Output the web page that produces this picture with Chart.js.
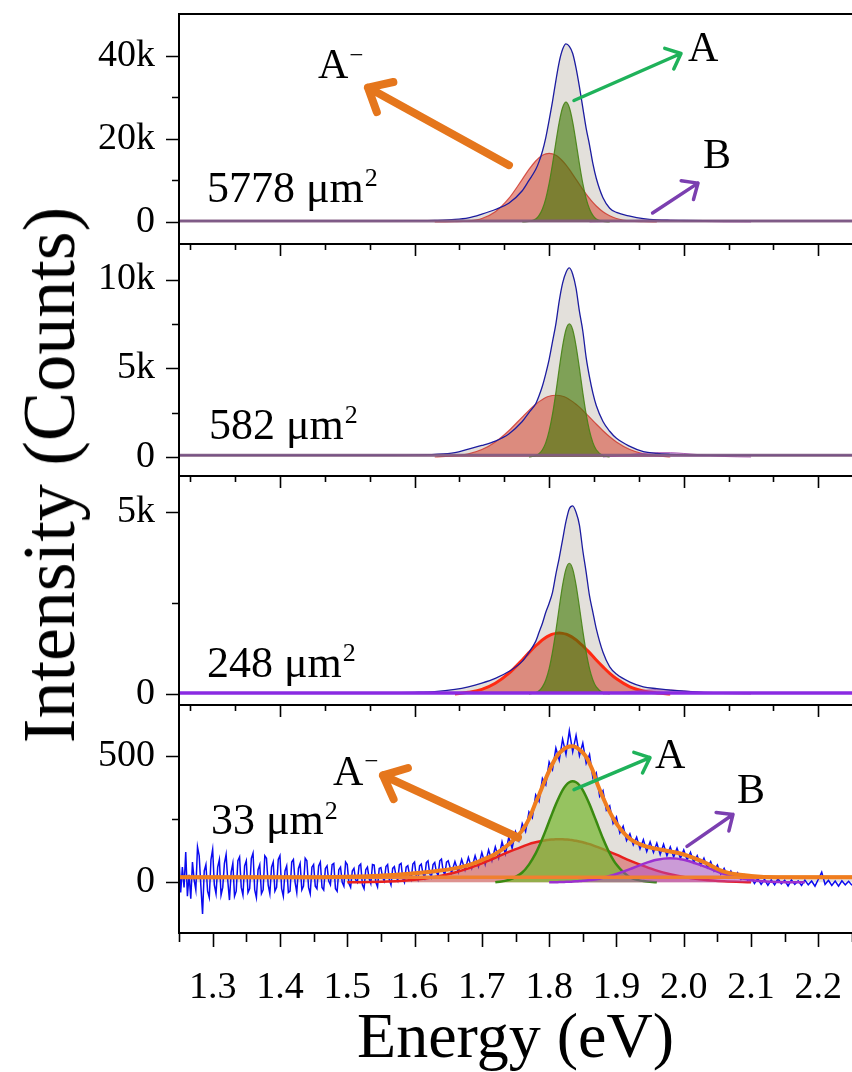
<!DOCTYPE html>
<html>
<head>
<meta charset="utf-8">
<title>PL spectra vs. flake area</title>
<script src="https://cdn.jsdelivr.net/npm/chart.js@4.4.1/dist/chart.umd.min.js"></script>
<style>
html, body { margin: 0; padding: 0; background: #fff; }
#wrap { position: relative; width: 852px; height: 1072px; overflow: hidden; }
#wrap canvas { position: absolute; left: 0; top: 0; }
#ytitle {
  position: absolute; left: 49px; top: 475px;
  transform: translate(-50%, -50%) rotate(-90deg);
  font: 74px "Liberation Serif", "Times New Roman", serif;
  line-height: 1; white-space: nowrap; color: #000;
}
</style>
</head>
<body>
<div id="wrap">
<canvas id="p1" width="852" height="1072"></canvas>
<canvas id="p2" width="852" height="1072"></canvas>
<canvas id="p3" width="852" height="1072"></canvas>
<canvas id="p4" width="852" height="1072"></canvas>
<div id="ytitle">Intensity (Counts)</div>
</div>
<script>
// PL spectra of four flakes, fitted with A-, A and B peaks

/* ENERGY GRID (eV) FOR THE FITTED CURVES */

const energy = [1.25, 1.40, 1.50, 1.56, 1.60, 1.63, 1.66, 1.68, 1.70, 1.72,
  1.74, 1.76, 1.77, 1.78, 1.785, 1.79, 1.795, 1.80, 1.805, 1.81,
  1.815, 1.82, 1.825, 1.83, 1.835, 1.84, 1.845, 1.85, 1.855, 1.86,
  1.865, 1.87, 1.88, 1.89, 1.90, 1.92, 1.94, 1.96, 1.98, 2.00,
  2.03, 2.06, 2.10, 2.14, 2.18, 2.25];

const baseEnergy = [1.25, 2.25];

/* 5778 um2 */

const p1Spectrum = [250, 250, 250, 260, 300, 380, 600, 1000, 1900, 3000,
  4500, 7500, 10000, 12600, 14500, 17000, 20300, 24500, 29000, 34000,
  38500, 41500, 42800, 42200, 40500, 37000, 32500, 27500, 22500, 18500,
  14000, 10500, 5800, 3300, 2300, 1400, 800, 500, 400, 350,
  300, 280, 260, 250, 250, 250];
const p1Trion = [null, null, null, null, null, 0, 50, 230, 840, 2460,
  5650, 10250, 12620, 14650, 15430, 16020, 16380, 16500, 16380, 16020,
  15430, 14650, 13700, 12620, 11460, 10250, 9030, 7840, 6710, 5650,
  4700, 3840, 2460, 1480, 840, 230, 50, 0, null, null,
  null, null, null, null, null, null];
const p1Exciton = [null, null, null, null, null, null, null, null, null, null,
  null, 0, 120, 730, 1580, 3120, 5630, 9270, 13930, 19150,
  24020, 27520, 28800, 27520, 24020, 19150, 13930, 9270, 5630, 3120,
  1580, 730, 120, 0, null, null, null, null, null, null,
  null, null, null, null, null, null];
const p1B = [null, null, null, null, null, null, null, null, null, null,
  null, null, null, null, null, null, null, null, null, null,
  null, null, null, null, null, null, null, null, null, 0,
  30, 40, 70, 110, 160, 300, 440, 500, 440, 300,
  110, 20, 0, null, null, null];
const p1Base = [250, 250];

/* 582 um2 */

const p2Spectrum = [100, 100, 100, 100, 120, 150, 250, 450, 650, 900,
  1300, 2000, 2500, 3000, 3450, 4000, 4700, 5500, 6500, 7500,
  8800, 9800, 10400, 10650, 10300, 9500, 8200, 7100, 5600, 4500,
  3600, 2900, 2000, 1450, 1050, 600, 300, 200, 150, 120,
  100, 100, 100, 100, 100, 100];
const p2Trion = [null, null, null, null, null, 0, 70, 180, 420, 850,
  1480, 2250, 2630, 2970, 3120, 3245, 3350, 3420, 3465, 3480,
  3465, 3420, 3350, 3245, 3120, 2970, 2810, 2630, 2440, 2250,
  2050, 1860, 1480, 1140, 850, 420, 180, 70, 0, null,
  null, null, null, null, null, null];
const p2Exciton = [null, null, null, null, null, null, null, null, null, null,
  null, null, 0, 80, 190, 410, 810, 1470, 2410, 3630,
  4990, 6250, 7170, 7500, 7170, 6250, 4990, 3630, 2410, 1470,
  810, 410, 80, 0, null, null, null, null, null, null,
  null, null, null, null, null, null];
const p2B = [null, null, null, null, null, null, null, null, null, null,
  null, null, null, null, null, null, null, null, null, null,
  null, null, null, null, null, null, null, null, null, null,
  null, null, 0, 30, 60, 140, 210, 245, 245, 200,
  110, 30, 0, null, null, null];
const p2Base = [100, 100];

/* 248 um2 */

const p3Spectrum = [40, 40, 40, 40, 50, 70, 130, 200, 300, 430,
  620, 900, 1150, 1450, 1700, 1950, 2250, 2500, 2800, 3300,
  3750, 4250, 4750, 5100, 5180, 5000, 4650, 3950, 3350, 2700,
  2250, 1800, 1150, 750, 550, 330, 200, 150, 110, 80,
  50, 40, 40, 40, 40, 40];
const p3Trion = [null, null, null, null, null, null, 0, 50, 130, 300,
  570, 940, 1140, 1330, 1410, 1490, 1560, 1610, 1650, 1670,
  1680, 1670, 1650, 1610, 1560, 1490, 1410, 1330, 1235, 1140,
  1040, 940, 750, 570, 420, 200, 85, 30, 0, null,
  null, null, null, null, null, null];
const p3Exciton = [null, null, null, null, null, null, null, null, null, null,
  null, null, 0, 40, 90, 200, 390, 700, 1160, 1740,
  2390, 3000, 3440, 3600, 3440, 3000, 2390, 1740, 1160, 700,
  390, 200, 40, 0, null, null, null, null, null, null,
  null, null, null, null, null, null];
const p3B = [null, null, null, null, null, null, null, null, null, null,
  null, null, null, null, null, null, null, null, null, null,
  null, null, null, null, null, null, null, null, null, null,
  null, null, 0, 15, 30, 70, 105, 120, 115, 90,
  45, 15, 0, null, null, null];
const p3Base = [30, 30];

/* 33 um2 */

const p4Fit = [20, 20, 22, 28, 36, 44, 55, 68, 88, 112,
  150, 205, 250, 315, 345, 378, 410, 440, 468, 492,
  510, 522, 531, 536, 537, 533, 524, 512, 495, 470,
  440, 400, 335, 278, 232, 172, 145, 132, 122, 110,
  80, 42, 25, 20, 20, 20];
const p4Trion = [null, null, 0, 3, 10, 21, 39, 55, 75, 97,
  120, 141, 151, 158, 161, 164, 166, 168, 169, 170,
  170, 170, 169, 168, 166, 164, 161, 158, 154, 151,
  146, 141, 131, 120, 109, 86, 65, 46, 32, 21,
  10, 4, 0, null, null, null];
const p4Exciton = [null, null, null, null, null, null, null, null, null, 0,
  10, 39, 70, 114, 142, 173, 206, 241, 275, 308,
  338, 364, 383, 395, 399, 395, 383, 364, 338, 308,
  275, 241, 173, 114, 70, 20, 5, 0, null, null,
  null, null, null, null, null, null];
const p4B = [null, null, null, null, null, null, null, null, null, null,
  null, null, null, null, null, null, null, 0, 0, 0,
  1, 1, 2, 2, 3, 4, 5, 6, 7, 9,
  10, 12, 18, 25, 33, 52, 73, 89, 95, 89,
  63, 33, 9, 1, 0, null];
const p4Base = [20, 20];

// raw (noisy) spectrum of the smallest flake
const p4RawEnergy = [
  1.2500, 1.2525, 1.2550, 1.2575, 1.2600, 1.2625, 1.2650, 1.2675, 1.2700, 1.2725, 1.2750, 1.2775, 1.2800, 1.2825, 1.2850, 1.2875, 1.2900, 1.2925, 1.2950, 1.2975,
  1.3000, 1.3025, 1.3050, 1.3075, 1.3100, 1.3125, 1.3150, 1.3175, 1.3200, 1.3225, 1.3250, 1.3275, 1.3300, 1.3325, 1.3350, 1.3375, 1.3400, 1.3425, 1.3450, 1.3475,
  1.3500, 1.3525, 1.3550, 1.3575, 1.3600, 1.3625, 1.3650, 1.3675, 1.3700, 1.3725, 1.3750, 1.3775, 1.3800, 1.3825, 1.3850, 1.3875, 1.3900, 1.3925, 1.3950, 1.3975,
  1.4000, 1.4025, 1.4050, 1.4075, 1.4100, 1.4125, 1.4150, 1.4175, 1.4200, 1.4225, 1.4250, 1.4275, 1.4300, 1.4325, 1.4350, 1.4375, 1.4400, 1.4425, 1.4450, 1.4475,
  1.4500, 1.4525, 1.4550, 1.4575, 1.4600, 1.4625, 1.4650, 1.4675, 1.4700, 1.4725, 1.4750, 1.4775, 1.4800, 1.4825, 1.4850, 1.4875, 1.4900, 1.4925, 1.4950, 1.4975,
  1.5000, 1.5025, 1.5050, 1.5075, 1.5100, 1.5125, 1.5150, 1.5175, 1.5200, 1.5225, 1.5250, 1.5275, 1.5300, 1.5325, 1.5350, 1.5375, 1.5400, 1.5425, 1.5450, 1.5475,
  1.5500, 1.5525, 1.5550, 1.5575, 1.5600, 1.5625, 1.5650, 1.5675, 1.5700, 1.5725, 1.5750, 1.5775, 1.5800, 1.5825, 1.5850, 1.5875, 1.5900, 1.5925, 1.5950, 1.5975,
  1.6000, 1.6025, 1.6050, 1.6075, 1.6100, 1.6125, 1.6150, 1.6175, 1.6200, 1.6225, 1.6250, 1.6275, 1.6300, 1.6325, 1.6350, 1.6375, 1.6400, 1.6425, 1.6450, 1.6475,
  1.650, 1.655, 1.660, 1.665, 1.670, 1.675, 1.680, 1.685, 1.690, 1.695, 1.700, 1.705, 1.710, 1.715, 1.720, 1.725, 1.730, 1.735, 1.740, 1.745,
  1.750, 1.755, 1.760, 1.765, 1.770, 1.775, 1.780, 1.785, 1.790, 1.795, 1.800, 1.805, 1.810, 1.815, 1.820, 1.825, 1.830, 1.835, 1.840, 1.845,
  1.850, 1.855, 1.860, 1.865, 1.870, 1.875, 1.880, 1.885, 1.890, 1.895, 1.900, 1.905, 1.910, 1.915, 1.920, 1.925, 1.930, 1.935, 1.940, 1.945,
  1.950, 1.955, 1.960, 1.965, 1.970, 1.975, 1.980, 1.985, 1.990, 1.995, 2.000, 2.005, 2.010, 2.015, 2.020, 2.025, 2.030, 2.035, 2.040, 2.045,
  2.050, 2.055, 2.060, 2.065, 2.070, 2.075, 2.080, 2.085, 2.090, 2.095, 2.100, 2.105, 2.110, 2.115, 2.120, 2.125, 2.130, 2.135, 2.140, 2.145,
  2.150, 2.155, 2.160, 2.165, 2.170, 2.175, 2.180, 2.185, 2.190, 2.195, 2.200, 2.205, 2.210, 2.215, 2.220, 2.225, 2.230, 2.235, 2.240, 2.245,
  2.250];
const p4Raw = [
  95, -40, 60, -20, 120, -55, 30, -65, 80, 10, -30, 140, 105, -15, -125, 45, 70, -35, -60, 90,
  130, -10, -45, 60, 90, -50, -20, 75, 110, 5, -70, 40, 75, -55, -35, 85, 100, -20, -50, 65,
  85, -40, -25, 95, 115, -30, -60, 50, 70, -45, -30, 105, 95, -10, -45, 60, 80, -35, -20, 90,
  105, -25, -55, 45, 65, -40, -35, 80, 90, 0, -40, 55, 75, -30, -15, 95, 85, -20, -45, 60,
  70, -15, -25, 65, 80, -20, -30, 55, 65, 5, -10, 70, 75, -25, -35, 50, 60, 0, -15, 80,
  70, -5, -20, 45, 55, 10, 0, 65, 72, -10, -25, 50, 60, 15, -5, 70, 68, 0, -18, 55,
  58, 20, 5, 62, 70, 10, -10, 55, 62, 25, 8, 70, 75, 15, 0, 60, 66, 30, 12, 72,
  80, 25, 10, 65, 72, 35, 18, 78, 85, 35, 20, 70, 78, 40, 28, 85, 92, 45, 30, 80,
  85, 38, 82, 40, 90, 48, 98, 55, 105, 62, 118, 70, 128, 85, 140, 95, 160, 112, 178, 135,
  200, 165, 232, 200, 278, 255, 345, 320, 410, 385, 475, 445, 530, 482, 565, 505, 598, 515, 580, 500,
  550, 470, 505, 412, 432, 340, 362, 285, 302, 232, 258, 195, 222, 165, 192, 148, 178, 132, 168, 122,
  160, 118, 155, 110, 150, 105, 140, 100, 135, 95, 128, 88, 118, 78, 105, 68, 95, 58, 82, 45,
  68, 32, 55, 25, 45, 18, 38, 12, 30, 8, 22, -5, 15, -8, 12, -12, 10, -10, 14, -6,
  8, -14, 10, -8, 6, -12, 9, -10, 5, -15, 12, 40, -8, 8, -12, 5, -15, 6, -10, 4,
  -12];

/* AXES */

const xTickLabels = [1.3, 1.4, 1.5, 1.6, 1.7, 1.8, 1.9, 2.0, 2.1, 2.2];
const xMinorTicks = [1.25, 1.35, 1.45, 1.55, 1.65, 1.75, 1.85, 1.95, 2.05, 2.15, 2.25];
const topMajorTicks = [1.4, 1.6, 1.8, 2.0, 2.2];
const topMinorTicks = [1.2667, 1.3333, 1.4667, 1.5333, 1.6667, 1.7333, 1.8667, 1.9333, 2.0667, 2.1333];

const p1YTicks = [0, 20000, 40000];
const p1YMinor = [10000, 30000];
const p2YTicks = [0, 5000, 10000];
const p2YMinor = [2500, 7500];
const p3YTicks = [0, 5000];
const p3YMinor = [2500];
const p4YTicks = [0, 500];
const p4YMinor = [250];

/* STYLE */

const SERIF = '"Liberation Serif", "Times New Roman", Times, serif';
const H = 1072;

Chart.defaults.font.family = SERIF;
Chart.defaults.color = "#000";

const GRAY = "rgba(226,222,217,0.95)";
const SALMON = "rgba(215,70,50,0.55)";
const GREEN = "rgba(60,120,0,0.6)";
const PURPLE = "rgba(170,60,200,0.35)";

function pts(xs, ys){
return xs.map((x, i) => ({ x: x, y: ys[i] }));
}

function area(data, fillColor, lineColor, lineWidth, order){
return {
data: data, fill: "origin", backgroundColor: fillColor,
borderColor: lineColor, borderWidth: lineWidth, order: order,
pointRadius: 0, cubicInterpolationMode: "monotone", spanGaps: false
};
}

function trace(data, color, width, order, smooth){
return {
data: data, fill: false, borderColor: color, borderWidth: width, order: order,
pointRadius: 0, tension: 0, cubicInterpolationMode: smooth ? "monotone" : "default"
};
}

function fmtCounts(v){
if(v === 0) return "0";
return v >= 1000 ? (v / 1000) + "k" : String(v);
}

/* ARROWS AND TEXT, FRAME AND TICKS */

function drawArrow(ctx, x1, y1, x2, y2, a){
const ang = Math.atan2(y2 - y1, x2 - x1);
ctx.save();
ctx.strokeStyle = a.color;
ctx.lineWidth = a.width;
ctx.lineCap = "round";
ctx.lineJoin = "round";
ctx.beginPath();
ctx.moveTo(x1, y1);
ctx.lineTo(x2, y2);
[-1, 1].forEach(s => {
ctx.moveTo(x2 - a.head * Math.cos(ang + s * 0.72), y2 - a.head * Math.sin(ang + s * 0.72));
ctx.lineTo(x2, y2);
});
ctx.stroke();
ctx.restore();
}

function drawNote(ctx, x, y, n){
const size = n.size || 42;
ctx.save();
ctx.fillStyle = "#000";
ctx.textAlign = "left";
ctx.textBaseline = "alphabetic";
ctx.font = size + "px " + SERIF;
ctx.fillText(n.text, x, y);
if(n.sup){
const w = ctx.measureText(n.text).width;
const supSize = Math.round(size * 0.6);
ctx.font = supSize + "px " + SERIF;
ctx.fillText(n.sup, x + w + 1, y - size * 0.36);
}
ctx.restore();
}

const framePlugin = {
id: "frame",
afterDatasetsDraw(chart, args, opts){
const { ctx, scales: { x, y } } = chart;
(opts.arrows || []).forEach(a => {
drawArrow(ctx, x.getPixelForValue(a.from[0]), y.getPixelForValue(a.from[1]),
x.getPixelForValue(a.to[0]), y.getPixelForValue(a.to[1]), a);
});
(opts.notes || []).forEach(n => {
drawNote(ctx, x.getPixelForValue(n.at[0]), y.getPixelForValue(n.at[1]), n);
});
},
afterDraw(chart, args, opts){
const { ctx, chartArea: c, scales: { x, y } } = chart;
ctx.save();
ctx.strokeStyle = "#000";
ctx.lineWidth = 2;
ctx.beginPath();
ctx.moveTo(c.right + 2, c.top);
ctx.lineTo(c.left, c.top);
ctx.lineTo(c.left, c.bottom);
ctx.lineTo(c.right + 2, c.bottom);
ctx.stroke();

ctx.lineWidth = 1.6;
ctx.beginPath();
const yTick = (v, len) => {
const py = Math.round(y.getPixelForValue(v)) + 0.5;
ctx.moveTo(c.left, py);
ctx.lineTo(c.left - len, py);
};
opts.yMajor.forEach(v => yTick(v, 13));
opts.yMinor.forEach(v => yTick(v, 7));
if(opts.topTicks){
const tTick = (v, len) => {
const px = Math.round(x.getPixelForValue(v)) + 0.5;
ctx.moveTo(px, c.top);
ctx.lineTo(px, c.top + len);
};
topMajorTicks.forEach(v => tTick(v, 12));
topMinorTicks.forEach(v => tTick(v, 6));
}
if(opts.bottomTicks){
const bTick = (v, len) => {
const px = Math.round(x.getPixelForValue(v)) + 0.5;
ctx.moveTo(px, c.bottom);
ctx.lineTo(px, c.bottom + len);
};
xTickLabels.forEach(v => bTick(v, 14));
xMinorTicks.forEach(v => bTick(v, 9));
}
ctx.stroke();
ctx.restore();
}
};

/* PANELS */

const panels = [
{
id: "p1", top: 14, bottom: 244, yMin: -5300, yMax: 50000,
yMajor: p1YTicks, yMinor: p1YMinor, topTicks: false,
datasets: [
area(pts(energy, p1Spectrum), GRAY, "rgba(0,0,0,0)", 0, 10),
area(pts(energy, p1Trion), SALMON, "rgba(205,50,40,0.8)", 1.2, 9),
area(pts(energy, p1B), PURPLE, "rgba(160,60,170,0.8)", 1, 8),
area(pts(energy, p1Exciton), GREEN, "rgba(70,130,20,0.9)", 1.2, 7),
trace(pts(energy, p1Spectrum), "#1c1ca0", 1.3, 5, true),
trace(pts(baseEnergy, p1Base), "rgba(130,90,130,0.9)", 3, 4, false)
],
arrows: [
{ from: [1.7403, 13650], to: [1.5308, 32300], color: "#e5761c", width: 8, head: 26 },
{ from: [1.8369, 29200], to: [1.9959, 40500], color: "#1fb25a", width: 3.5, head: 17 },
{ from: [1.9537, 2160], to: [2.0212, 9340], color: "#7b3fb0", width: 3.5, head: 17 }
],
notes: [
{ text: "A", sup: "\u2212", at: [1.4565, 34700] },
{ text: "A", at: [2.0063, 38800] },
{ text: "B", at: [2.0286, 12900] },
{ text: "5778 \u03bcm", sup: "2", at: [1.2916, 4800], size: 44 }
]
},
{
id: "p2", top: 244, bottom: 476, yMin: -1070, yMax: 12000,
yMajor: p2YTicks, yMinor: p2YMinor, topTicks: true,
datasets: [
area(pts(energy, p2Spectrum), GRAY, "rgba(0,0,0,0)", 0, 10),
area(pts(energy, p2Trion), SALMON, "rgba(205,50,40,0.8)", 1.2, 9),
area(pts(energy, p2B), PURPLE, "rgba(160,60,170,0.8)", 1, 8),
area(pts(energy, p2Exciton), GREEN, "rgba(70,130,20,0.9)", 1.2, 7),
trace(pts(energy, p2Spectrum), "#1c1ca0", 1.3, 5, true),
trace(pts(baseEnergy, p2Base), "rgba(130,90,130,0.9)", 3, 4, false)
],
arrows: [],
notes: [
{ text: "582 \u03bcm", sup: "2", at: [1.2946, 1000], size: 44 }
]
},
{
id: "p3", top: 476, bottom: 705, yMin: -300, yMax: 6000,
yMajor: p3YTicks, yMinor: p3YMinor, topTicks: true,
datasets: [
area(pts(energy, p3Spectrum), GRAY, "rgba(0,0,0,0)", 0, 10),
area(pts(energy, p3Trion), SALMON, "#ff2a12", 3, 9),
area(pts(energy, p3B), PURPLE, "rgba(160,60,170,0.8)", 1, 8),
area(pts(energy, p3Exciton), GREEN, "rgba(70,130,20,0.9)", 1.2, 7),
trace(pts(energy, p3Spectrum), "#1c1ca0", 1.3, 5, true),
trace(pts(baseEnergy, p3Base), "#8a2be2", 3.5, 4, false)
],
arrows: [],
notes: [
{ text: "248 \u03bcm", sup: "2", at: [1.2916, 472], size: 44 }
]
},
{
id: "p4", top: 705, bottom: 933, yMin: -200, yMax: 700,
yMajor: p4YTicks, yMinor: p4YMinor, topTicks: true, bottomTicks: true,
datasets: [
area(pts(energy, p4Fit), GRAY, "rgba(0,0,0,0)", 0, 10),
trace(pts(p4RawEnergy, p4Raw), "#0a0af0", 1.5, 9, false),
area(pts(energy, p4Trion), "rgba(215,70,70,0.5)", "#e8201e", 2.5, 8),
area(pts(energy, p4Exciton), "rgba(120,185,50,0.72)", "#3a8a10", 2.5, 7),
area(pts(energy, p4B), "rgba(175,70,210,0.45)", "#9b30d0", 2.5, 6),
trace(pts(baseEnergy, p4Base), "#f08030", 3.5, 3, false),
trace(pts(energy, p4Fit), "#f07d1e", 4, 2, true)
],
arrows: [
{ from: [1.7537, 177], to: [1.5531, 422], color: "#e5761c", width: 8, head: 26 },
{ from: [1.8369, 366], to: [1.9498, 492], color: "#1fb25a", width: 3.5, head: 17 },
{ from: [2.0048, 142], to: [2.0732, 268], color: "#7b3fb0", width: 3.5, head: 17 }
],
notes: [
{ text: "A", sup: "\u2212", at: [1.4788, 386] },
{ text: "A", at: [1.9573, 453] },
{ text: "B", at: [2.079, 315] },
{ text: "33 \u03bcm", sup: "2", at: [1.2975, 189], size: 44 }
]
}
];

function makeChart(p, last){

const canvas = document.getElementById(p.id);

if(!canvas){
console.warn("canvas missing", p.id);
return;
}

return new Chart(canvas, {
type: "line",
data: { datasets: p.datasets },
options: {
responsive: false,
animation: false,
devicePixelRatio: 1,
layout: { padding: { top: p.top, bottom: last ? 0 : H - p.bottom, left: 0, right: 0 } },
plugins: {
legend: { display: false },
tooltip: { enabled: false },
frame: {
arrows: p.arrows, notes: p.notes,
yMajor: p.yMajor, yMinor: p.yMinor,
topTicks: p.topTicks, bottomTicks: !!p.bottomTicks
}
},
scales: {
x: {
type: "linear", min: 1.25, max: 2.25, display: last,
grid: { display: false, drawTicks: false },
border: { display: false },
afterBuildTicks: s => { s.ticks = xTickLabels.map(v => ({ value: v })); },
afterFit: s => { s.height = last ? H - p.bottom : 0; s.paddingLeft = 0; s.paddingRight = 0; },
ticks: { font: { size: 38 }, padding: 32, maxRotation: 0, minRotation: 0, autoSkip: false, callback: v => v.toFixed(1) },
title: { display: true, text: "Energy (eV)", font: { size: 64, lineHeight: 1 }, padding: 0 }
},
y: {
type: "linear", min: p.yMin, max: p.yMax,
grid: { display: false, drawTicks: false },
border: { display: false },
afterBuildTicks: s => { s.ticks = p.yMajor.map(v => ({ value: v })); },
afterFit: s => { s.width = 179; s.paddingTop = 0; s.paddingBottom = 0; },
ticks: { font: { size: 38 }, padding: 24, autoSkip: false, callback: fmtCounts }
}
}
},
plugins: [framePlugin]
});

}

panels.forEach((p, i) => makeChart(p, i === panels.length - 1));
</script>
</body>
</html>
